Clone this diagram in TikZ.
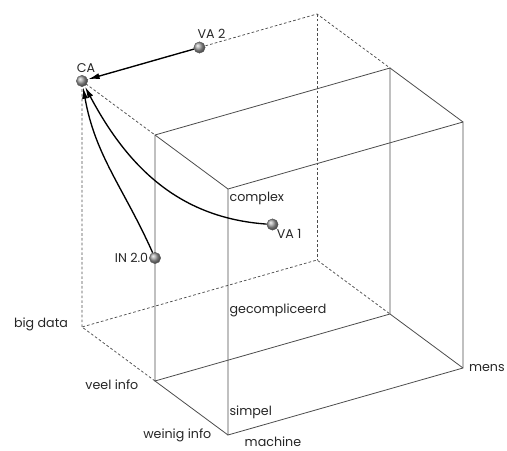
\documentclass[tikz,border=0pt]{standalone}
\usepackage{fontspec}
\setmainfont{Poppins}
\usetikzlibrary{arrows.meta}
\begin{document}
\begin{tikzpicture}[x={(176.25pt,50.25pt)}, y={(-54.75pt,40.5pt)}, z={(0pt,184.5pt)},
    edge/.style={line width=0.6pt, black!70},
    hidden/.style={line width=0.55pt, black!70, dash pattern=on 2pt off 1.6pt},
    ball/.style={circle, inner sep=0pt, minimum size=8.5pt, draw=black!65, line width=0.3pt, shading=ball, ball color=gray!75},
    lbl/.style={font=\fontsize{9.5}{11}\selectfont, text=black!85},
    flow/.style={line width=1pt, ->, >={Latex[length=8.5pt, width=4.5pt]}, shorten >=0.5pt},
]

\useasboundingbox (-171pt,-11.25pt) rectangle (209.25pt,326.25pt);

% outer block (hidden edges)
\draw[hidden] (0,1,0) -- (0,2,0) -- (1,2,0) -- (1,1,0);
\draw[hidden] (0,2,0) -- (0,2,1) -- (1,2,1) -- (1,1,1);
\draw[hidden] (1,2,1) -- (1,2,0);
\draw[hidden] (0,2,1) -- (0,1,1);

% inner block
\draw[edge] (0,0,0) -- (1,0,0) -- (1,0,1) -- (0,0,1) -- cycle;
\draw[edge] (0,1,0) -- (1,1,0) -- (1,1,1) -- (0,1,1) -- cycle;
\foreach \p/\q in {0/0, 1/0, 1/1, 0/1}{
\draw[edge] (\p,0,\q) -- (\p,1,\q);
}

% axis labels
\node[lbl, anchor=west, inner sep=1pt] (complex) at (0,0,0.963) {complex};
\node[lbl, anchor=west, inner sep=1pt] (gecompliceerd) at (0,0,0.508) {gecompliceerd};
\node[lbl, anchor=west, inner sep=1pt] (simpel) at (0,0,0.093) {simpel};
\node[lbl, anchor=north west, xshift=9pt, yshift=2pt] (machine) at (0,0,0) {machine};
\node[lbl, anchor=west, xshift=1pt] (mens) at (1,0,0) {mens};
\node[lbl, anchor=east, xshift=-9pt] (weinig) at (0,0,0) {weinig info};
\node[lbl, anchor=east, xshift=-9pt, yshift=-3pt] (veel) at (0,1,0) {veel info};
\node[lbl, anchor=east, xshift=-7pt, yshift=2pt] (bigdata) at (0,2,0) {big data};

% points
\node[ball, label={[lbl, xshift=3pt, yshift=-1.5pt]above:CA}] (CA) at (0,2,1) {};
\node[ball, label={[lbl, xshift=9pt, yshift=-1.5pt]above:VA 2}] (VA2) at (0.5,2,1) {};
\node[ball, label={[lbl, inner sep=0.5pt]left:IN 2.0}] (IN) at (0,1,0.5) {};
\node[ball, label={[lbl, inner sep=0pt]south east:VA 1}] (VA1) at (0.5,1,0.5) {};

% arrows
\draw[flow] (VA2) -- (CA);
\draw[flow] (IN) to[out=114, in=-80] (CA);
\draw[flow] (VA1) to[out=176, in=-62] (CA);
\end{tikzpicture}
\end{document}
